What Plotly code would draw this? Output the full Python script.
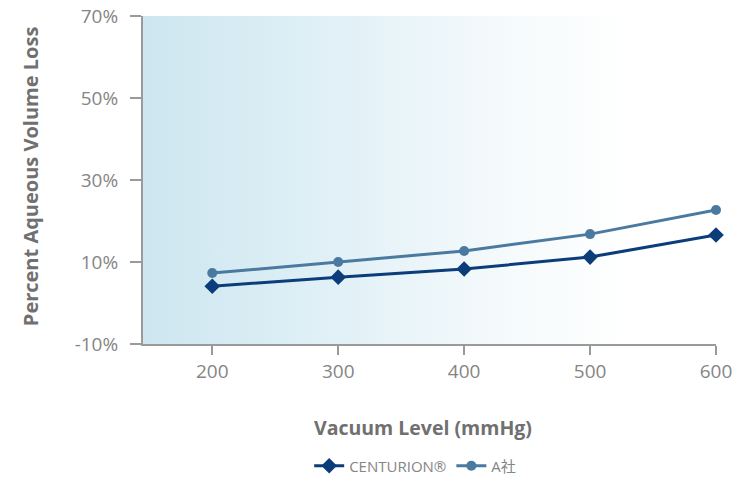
import plotly.graph_objects as go

vacuum_mmhg = [200, 300, 400, 500, 600]
centurion_loss = [4.1, 6.3, 8.3, 11.2, 16.6]
company_a_loss = [7.3, 10.0, 12.7, 16.8, 22.7]
y_ticks = [-10, 10, 30, 50, 70]
y_tick_labels = ["-10%", "10%", "30%", "50%", "70%"]

X_RANGE = [145, 600]
Y_RANGE = [-10, 70]

FONT = "Open Sans, Noto Sans CJK JP, sans-serif"
GRAY = "#858585"
TITLE_GRAY = "#707070"
AXIS = "#9a9a9a"

fig = go.Figure()

# Soft blue background wash fading to white towards the right
fig.add_trace(go.Scatter(
    x=[X_RANGE[0], X_RANGE[1], X_RANGE[1], X_RANGE[0], X_RANGE[0]],
    y=[Y_RANGE[0], Y_RANGE[0], Y_RANGE[1], Y_RANGE[1], Y_RANGE[0]],
    mode="none",
    fill="toself",
    fillgradient=dict(
        type="horizontal",
        colorscale=[[0, "#cde6f0"], [0.35, "#e2f1f7"], [0.6, "#f3f9fb"],
                    [0.85, "#ffffff"], [1, "#ffffff"]],
    ),
    hoverinfo="skip",
    showlegend=False,
))

fig.add_trace(go.Scatter(
    x=vacuum_mmhg, y=centurion_loss, name="CENTURION®",
    mode="lines+markers",
    line=dict(color="#0b3d7a", width=3),
    marker=dict(symbol="diamond", size=12, color="#0b3d7a"),
    cliponaxis=False,
))
fig.add_trace(go.Scatter(
    x=vacuum_mmhg, y=company_a_loss, name="A社",
    mode="lines+markers",
    line=dict(color="#4a7aa0", width=3),
    marker=dict(symbol="circle", size=10, color="#4a7aa0"),
    cliponaxis=False,
))

fig.update_layout(
    width=740, height=480,
    margin=dict(l=143, r=24, t=16, b=136, autoexpand=False),
    paper_bgcolor="white",
    plot_bgcolor="white",
    font=dict(family=FONT, color=GRAY, size=15),
    legend=dict(
        orientation="h", x=0.475, xanchor="center", y=-0.372, yanchor="middle",
        font=dict(size=15, color=GRAY),
        itemwidth=30,
    ),
    annotations=[
        dict(text="<b>Vacuum Level (mmHg)</b>", x=0.488, y=-0.256,
             xref="paper", yref="paper", xanchor="center", yanchor="middle",
             showarrow=False, font=dict(size=19.5, color=TITLE_GRAY)),
        dict(text="<b>Percent Aqueous Volume Loss</b>", x=-0.197, y=0.512,
             xref="paper", yref="paper", xanchor="center", yanchor="middle",
             textangle=-90, showarrow=False, font=dict(size=20, color=TITLE_GRAY)),
    ],
)

fig.update_xaxes(
    range=X_RANGE,
    tickvals=vacuum_mmhg,
    showgrid=False, zeroline=False, automargin=False,
    showline=True, linecolor=AXIS, linewidth=2,
    ticks="outside", ticklen=9, tickcolor=AXIS, tickwidth=2,
    tickfont=dict(size=19, color=GRAY),
)
fig.update_yaxes(
    range=Y_RANGE,
    tickvals=y_ticks, ticktext=y_tick_labels,
    showgrid=False, zeroline=False, automargin=False,
    showline=True, linecolor=AXIS, linewidth=2,
    ticks="outside", ticklen=11, tickcolor=AXIS, tickwidth=2,
    ticklabelstandoff=8,
    tickfont=dict(size=19, color=GRAY),
)

fig.write_html("out.html")
